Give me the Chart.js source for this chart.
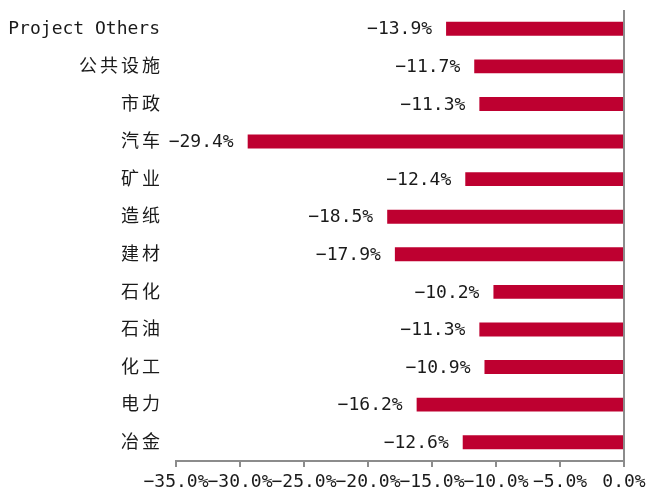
<!DOCTYPE html>
<html>
<head>
<meta charset="utf-8">
<script src="https://cdn.jsdelivr.net/npm/chart.js@4"></script>
<style>
html,body{margin:0;padding:0;background:#fff;}
#wrap{width:646px;height:493px;}
</style>
</head>
<body>
<div id="wrap"><canvas id="bar-chart" width="646" height="493"></canvas></div>
<script>
const categorias = ['Project Others','公共设施','市政','汽车','矿业','造纸','建材','石化','石油','化工','电力','冶金'];
const valores = [-13.9, -11.7, -11.3, -29.4, -12.4, -18.5, -17.9, -10.2, -11.3, -10.9, -16.2, -12.6];
const ejeMin = -35, ejeMax = 0, ejePaso = 5;

const fuente = "'DejaVu Sans Mono', 'Noto Sans CJK SC', monospace";
const pct = v => v.toFixed(1).replace('-', '\u2212') + '%';

// etiquetas propias: categorias, valores y ticks del eje x
const etiquetas = {
	id: 'etiquetas',
	afterDatasetsDraw(chart) {
		const ctx = chart.ctx;
		const x = chart.scales.x, y = chart.scales.y;
		ctx.save();
		ctx.fillStyle = '#1a1a1a';
		ctx.textBaseline = 'middle';
		ctx.textAlign = 'right';
		ctx.font = '18px ' + fuente;
		// valores al final de cada barra
		chart.getDatasetMeta(0).data.forEach((bar, i) => {
			ctx.fillText(pct(valores[i]), x.getPixelForValue(valores[i]) - 14, bar.y + 1);
		});
		// categorias
		categorias.forEach((c, i) => {
			const yy = y.getPixelForValue(i) + 1;
			if (/[\u4e00-\u9fff]/.test(c)) {
				ctx.letterSpacing = '3px';
				ctx.fillText(c, 163, yy);
				ctx.letterSpacing = '0px';
			} else {
				ctx.fillText(c, 160, yy);
			}
		});
		// ticks eje x
		ctx.textAlign = 'center';
		x.ticks.forEach(t => {
			ctx.fillText(pct(t.value), x.getPixelForValue(t.value), 482);
		});
		ctx.restore();
	}
};

let config = {
	type: 'bar',
	data: {labels: categorias, datasets: [{backgroundColor: '#BE0030', data: valores, barPercentage: 0.37, categoryPercentage: 1}]},
	options: {
		indexAxis: 'y',
		responsive: false,
		animation: false,
		layout: {padding: {left: 176, right: 22, top: 10, bottom: 26}},
		plugins: {legend: {display: false}, tooltip: {enabled: false}},
		scales: {
			x: {
				min: ejeMin, max: ejeMax,
				ticks: {display: false, stepSize: ejePaso},
				grid: {
					color: c => (c.tick && c.tick.value === 0) ? '#8c8c8c' : 'rgba(0,0,0,0)',
					tickColor: '#8c8c8c', tickLength: 6, lineWidth: 2
				},
				border: {display: true, color: '#8c8c8c', width: 2}
			},
			y: {display: false}
		}
	},
	plugins: [etiquetas]
};

const myChart = new Chart(document.getElementById('bar-chart'), config);
</script>
</body>
</html>
